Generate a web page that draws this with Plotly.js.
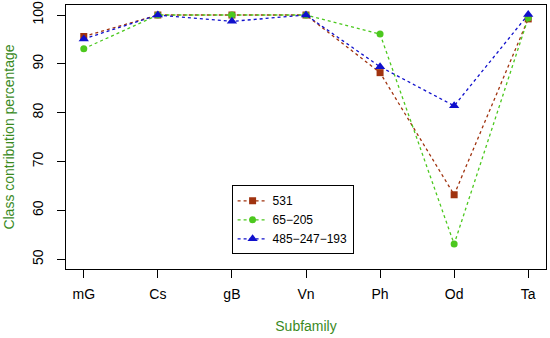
<!DOCTYPE html>
<html><head><meta charset="utf-8">
<script src="https://cdn.plot.ly/plotly-3.0.1.min.js"></script>
<style>html,body{margin:0;padding:0;background:#fff}#c{width:550px;height:338px}</style>
</head><body><div id="c"></div>
<script>
const categories = ["mG","Cs","gB","Vn","Ph","Od","Ta"];
const s531 = [95.6, 100, 100, 100, 88.2, 63.2, 99.2];
const s65_205 = [93.1, 100, 100, 100, 96.1, 53.1, 99.4];
const s485 = [95.1, 100, 98.7, 100, 89.4, 81.4, 100.1];
const seriesNames = ["531","65\u2212205","485\u2212247\u2212193"];
const xs = categories.map((c,i)=>i);

const traces = [
  {x: xs, y: s531, name: seriesNames[0], mode: "lines+markers",
   line: {color: "#a0330f", dash: "3px,3px", width: 1.3},
   marker: {symbol: "square", size: 7, color: "#a0330f"}},
  {x: xs, y: s65_205, name: seriesNames[1], mode: "lines+markers",
   line: {color: "#4cc81e", dash: "3px,3px", width: 1.3},
   marker: {symbol: "circle", size: 7, color: "#4cc81e"}},
  {x: xs, y: s485, name: seriesNames[2], mode: "lines+markers",
   line: {color: "#1010cc", dash: "3px,3px", width: 1.3},
   marker: {symbol: "triangle-up", size: 9, color: "#1010cc"}}
];

const layout = {
  width: 550, height: 338,
  margin: {l: 66, r: 4, t: 5, b: 69},
  paper_bgcolor: "#fff", plot_bgcolor: "#fff",
  font: {family: "Liberation Sans, Arial, sans-serif", size: 14, color: "#000"},
  showlegend: true,
  legend: {x: 0.345, y: 0.317, xanchor: "left", yanchor: "top",
    bgcolor: "#fff", bordercolor: "#000", borderwidth: 1,
    font: {size: 12}, tracegroupgap: 0, itemwidth: 30},
  xaxis: {
    range: [-0.24, 6.24], tickmode: "array", tickvals: xs, ticktext: categories,
    showgrid: false, zeroline: false, showline: true, linecolor: "#000", linewidth: 1,
    mirror: true, ticks: "outside", ticklen: 8, tickcolor: "#000", ticklabelstandoff: 4,
    title: {text: "Subfamily", font: {color: "#3a8a1e", size: 14}, standoff: 20}
  },
  yaxis: {
    range: [48, 102.05], tickvals: [50,60,70,80,90,100],
    tickangle: -90, ticklabelstandoff: 8,
    showgrid: false, zeroline: false, showline: true, linecolor: "#000", linewidth: 1,
    mirror: true, ticks: "outside", ticklen: 8, tickcolor: "#000",
    title: {text: "Class contribution percentage", font: {color: "#3a8a1e", size: 14}, standoff: 12}
  }
};
Plotly.newPlot("c", traces, layout, {displayModeBar: false, staticPlot: true});
</script></body></html>
